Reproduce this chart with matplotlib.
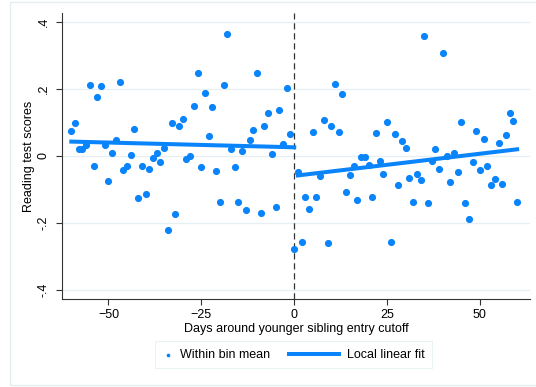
import numpy as np
import matplotlib
matplotlib.use('Agg')
import matplotlib.pyplot as plt
from matplotlib.patches import Rectangle
from matplotlib.legend_handler import HandlerLine2D

plt.rcParams['font.family'] = ['Liberation Sans', 'DejaVu Sans']

# bin means, days -60..-1 and 0..60
days_left = np.arange(-60, 0)
means_left = [0.074, 0.098, 0.020, 0.020, 0.034, 0.213, -0.031, 0.177, 0.208, 0.034,
              -0.074, 0.010, 0.047, 0.222, -0.041, -0.030, 0.003, 0.080, -0.126, -0.030,
              -0.112, -0.039, -0.006, 0.010, -0.019, 0.024, -0.221, 0.099, -0.174, 0.090,
              0.111, -0.010, 0.001, 0.149, 0.248, -0.034, 0.188, 0.061, 0.147, -0.045,
              -0.138, 0.211, 0.364, 0.020, -0.032, -0.137, 0.016, -0.161, 0.047, 0.078,
              0.247, -0.171, 0.089, 0.128, 0.007, -0.152, 0.136, 0.035, 0.203, 0.066]
days_right = np.arange(0, 61)
means_right = [-0.278, -0.048, -0.256, -0.122, -0.158, 0.073, -0.122, -0.059, 0.107, -0.260,
               0.090, 0.214, 0.072, 0.184, -0.107, -0.057, -0.031, -0.132, -0.004, -0.004,
               -0.026, -0.123, 0.068, -0.016, -0.055, 0.101, -0.256, 0.066, -0.087, 0.046,
               0.023, -0.066, -0.138, -0.053, -0.071, 0.359, -0.140, -0.016, 0.022, -0.039,
               0.307, 0.000, -0.078, 0.009, -0.047, 0.101, -0.141, -0.188, -0.018, 0.076,
               -0.043, 0.052, -0.030, -0.087, -0.069, 0.038, -0.083, 0.063, 0.128, 0.106,
               -0.137]

# local linear fit (endpoints)
fit_left_x = [-60, 0]
fit_left_y = [0.043, 0.026]
fit_right_x = [1, 60]
fit_right_y = [-0.058, 0.020]

yticks = [-0.4, -0.2, 0, 0.2, 0.4]
ytick_labels = ['-.4', '-.2', '0', '.2', '.4']
xticks = [-50, -25, 0, 25, 50]

blue = '#0a84fa'


class LongLine(HandlerLine2D):
    # wider legend key for the fit line only
    def legend_artist(self, legend, orig_handle, fontsize, handlebox):
        handlebox.width = 4.0 * fontsize
        return super().legend_artist(legend, orig_handle, fontsize, handlebox)


fig = plt.figure(figsize=(5.36, 3.87), dpi=100)
ax = fig.add_axes([0.1157, 0.2274, 0.8733, 0.739])

ax.scatter(days_left, means_left, s=17, color=blue, zorder=3, label='Within bin mean')
ax.scatter(days_right, means_right, s=17, color=blue, zorder=3)
fit_line, = ax.plot(fit_left_x, fit_left_y, color=blue, lw=2.9, zorder=4, label='Local linear fit')
ax.plot(fit_right_x, fit_right_y, color=blue, lw=2.9, zorder=4)
ax.axvline(0, color='#333333', lw=0.9, ls=(0, (5, 3)), zorder=2)

ax.set_xlim(-62.5, 63.5)
ax.set_ylim(-0.427, 0.427)
ax.set_yticks(yticks)
ax.set_yticklabels(ytick_labels, rotation=90, va='center')
ax.set_xticks(xticks)
ax.tick_params(labelsize=9, length=4, width=0.8, color='#333333')
ax.tick_params(axis='y', pad=5)
ax.grid(axis='y', color='#e6eff2', lw=0.9)
ax.set_axisbelow(True)
for s in ['top', 'right']:
    ax.spines[s].set_visible(False)
for s in ['left', 'bottom']:
    ax.spines[s].set_color('#333333')
    ax.spines[s].set_linewidth(0.8)

ax.set_xlabel('Days around younger sibling entry cutoff', fontsize=9, labelpad=1)
ax.set_ylabel('Reading test scores', fontsize=9, labelpad=2)

leg = fig.legend(loc='center', bbox_to_anchor=(0.548, 0.083), ncol=2, fontsize=9,
                 frameon=True, fancybox=False, edgecolor='#e6eff2',
                 handlelength=0.8, handletextpad=0.6, markerscale=0.4,
                 columnspacing=1.5, borderpad=0.6,
                 handler_map={fit_line: LongLine()})
leg.get_frame().set_linewidth(0.8)

fig.patches.append(Rectangle((10 / 536, 2 / 387), 1.0, 0.99, transform=fig.transFigure,
                             fill=False, edgecolor='#e3eef0', lw=1.0))

fig.savefig('out.png', dpi=100)
